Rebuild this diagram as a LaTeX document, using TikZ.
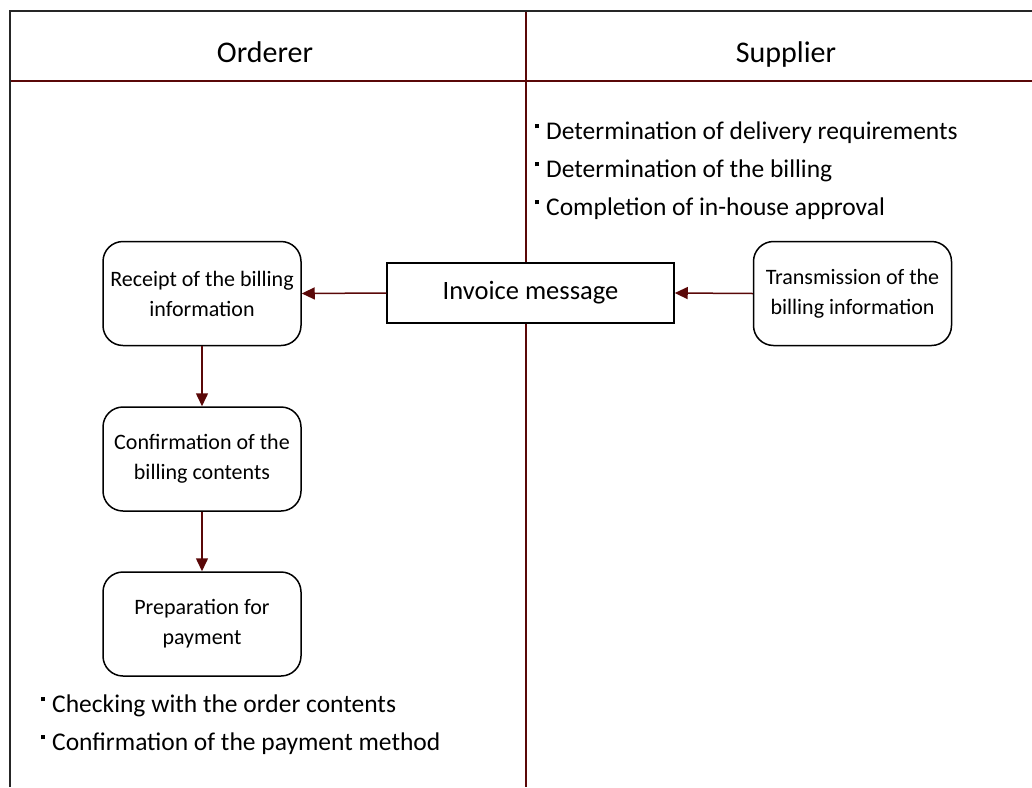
\documentclass[tikz,border=0pt]{standalone}
\usepackage{fontspec}
\setmainfont{Carlito}
\usetikzlibrary{arrows.meta,positioning}
\definecolor{linered}{RGB}{90,8,8}
\newcommand{\bulsq}{\raisebox{0.42em}{\rule{4pt}{4pt}}\hspace{7pt}}
\tikzset{
  frame/.style={draw=black!85, line width=2pt},
  lane/.style={draw=linered, line width=2pt},
  procbox/.style={draw=black, line width=1.5pt, rounded corners=20pt, minimum width=198pt, minimum height=104pt, align=center, inner sep=0pt, font=\fontsize{22}{30}\selectfont},
  msgbox/.style={draw=black, line width=1.5pt, minimum width=287pt, minimum height=60pt, inner sep=0pt, font=\fontsize{26.5}{30}\selectfont},
  headtext/.style={inner sep=0pt, anchor=base, font=\fontsize{30}{34}\selectfont},
  bultext/.style={inner sep=0pt, anchor=base west, font=\fontsize{25.5}{30}\selectfont},
  conn/.style={draw=linered, line width=1.5pt, -{Triangle[length=13pt,width=12pt]}}
}
\begin{document}
\begin{tikzpicture}[x=1pt,y=-1pt]
\useasboundingbox (0,0) rectangle (1032,787);
% table lines
\draw[frame] (10,787) -- (10,11) -- (1032,11);
\draw[lane] (11,80.5) -- (1032,80.5);
\draw[lane] (526,12) -- (526,787);
% headers
\node[headtext] (ho) at (265,62) {Orderer};
\node[headtext] (hs) at (786,62) {Supplier};
% process boxes
\node[procbox] (rec) at (202,293.5) {Receipt of the billing\\information};
\node[procbox] (conf) at (202,459) {Confirmation of the\\billing contents};
\node[procbox] (prep) at (202,624) {Preparation for\\payment};
\node[procbox] (trans) at (852.5,293.5) {Transmission of the\\billing information};
\node[msgbox, fill=white] (inv) at (530.5,293) {Invoice message};
% bullets
\node[bultext] (s1) at (535,139) {\bulsq Determination of delivery requirements};
\node[bultext] (s2) at (535,177) {\bulsq Determination of the billing};
\node[bultext] (s3) at (535,215) {\bulsq Completion of in-house approval};
\node[bultext] (o1) at (41,712) {\bulsq Checking with the order contents};
\node[bultext] (o2) at (41,750) {\bulsq Confirmation of the payment method};
% connectors
\draw[conn] (inv.west) -- (rec.east);
\draw[conn] (trans.west) -- (inv.east);
\draw[conn] (rec) -- (conf);
\draw[conn] (conf) -- (prep);
\end{tikzpicture}
\end{document}
